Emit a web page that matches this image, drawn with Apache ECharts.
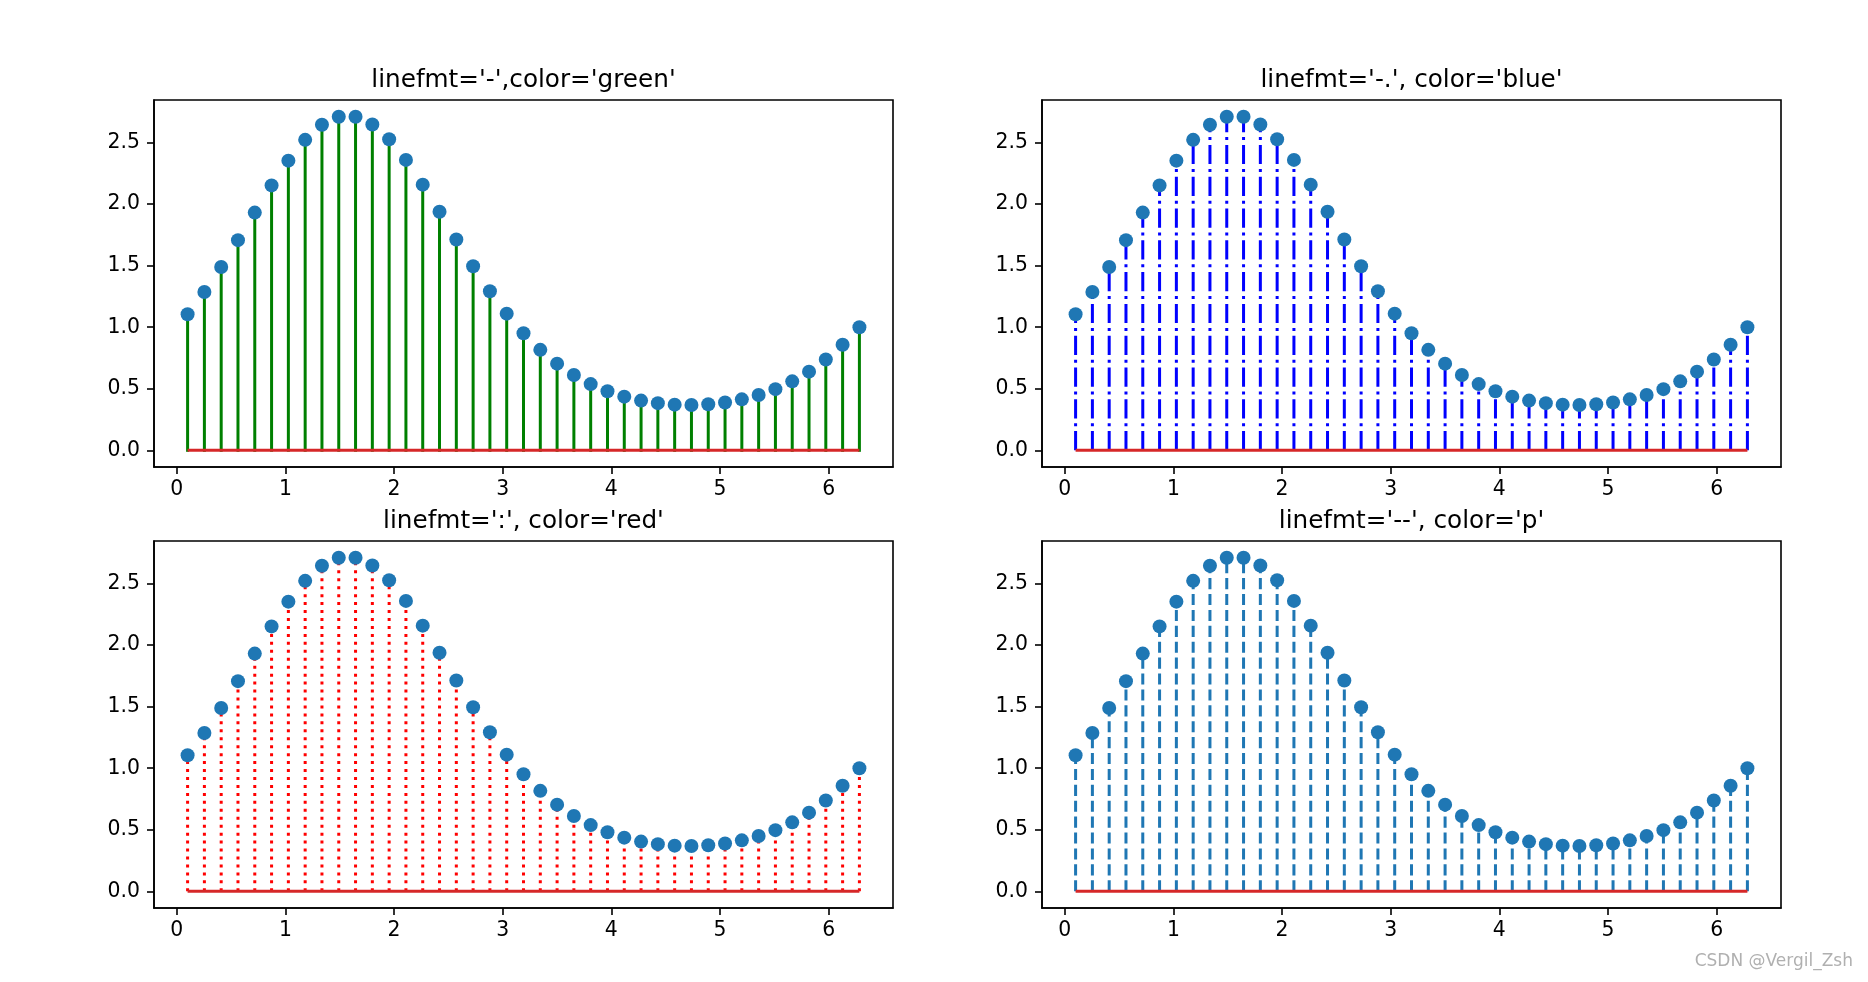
<!DOCTYPE html>
<html>
<head>
<meta charset="utf-8">
<script src="https://cdn.jsdelivr.net/npm/echarts@6/dist/echarts.min.js"></script>
<style>
html,body{margin:0;padding:0;background:#fff;}
#chart{width:1868px;height:982px;}
</style>
</head>
<body>
<div id="chart"></div>
<script>
// x sample positions (0.1 .. 2π, 41 points)
const xValues = [0.1, 0.2546, 0.4092, 0.5637, 0.7183, 0.8729, 1.0275, 1.1821, 1.3366, 1.4912,
  1.6458, 1.8004, 1.9550, 2.1095, 2.2641, 2.4187, 2.5733, 2.7279, 2.8824, 3.0370,
  3.1916, 3.3462, 3.5008, 3.6553, 3.8099, 3.9645, 4.1191, 4.2737, 4.4282, 4.5828,
  4.7374, 4.8920, 5.0466, 5.2011, 5.3557, 5.5103, 5.6649, 5.8195, 5.9740, 6.1286, 6.2832];
// stem heights
const yValues = [1.105, 1.286, 1.489, 1.707, 1.931, 2.152, 2.353, 2.522, 2.645, 2.710,
  2.710, 2.647, 2.527, 2.359, 2.158, 1.938, 1.713, 1.495, 1.292, 1.110,
  0.951, 0.816, 0.704, 0.612, 0.538, 0.480, 0.436, 0.404, 0.383, 0.371,
  0.368, 0.374, 0.389, 0.414, 0.449, 0.497, 0.560, 0.639, 0.738, 0.857, 1.000];
const baseline = [[0.1, 0], [6.2832, 0]];
const xTicks = [0, 1, 2, 3, 4, 5, 6];
const yTicks = [0, 0.5, 1.0, 1.5, 2.0, 2.5];
const titles = ["linefmt='-',color='green'", "linefmt='-.', color='blue'", "linefmt=':', color='red'", "linefmt='--', color='p'"];
const stemColors = ['#008000', '#0000ff', '#ff0000', '#1f77b4'];
const stemDashes = [null, [19.2, 4.8, 3, 4.8], [3, 4.95], [11.1, 4.8]];

const FONT = 'DejaVu Sans';
const panels = [
  {left: 154, top: 100},
  {left: 1042, top: 100},
  {left: 154, top: 541},
  {left: 1042, top: 541}
];
const W = 739, H = 367;

const grids = [], xAxes = [], yAxes = [], series = [], graphics = [];
panels.forEach((p, i) => {
  grids.push({left: p.left, top: p.top, width: W, height: H, show: true,
    borderColor: '#000', borderWidth: 1.6, backgroundColor: 'transparent', containLabel: false});
  xAxes.push({type: 'value', gridIndex: i, min: -0.2092, max: 6.5924,
    axisLine: {show: true, onZero: false, lineStyle: {color: '#000', width: 1.6}},
    axisTick: {show: true, length: 7, lineStyle: {color: '#000', width: 1.6}, customValues: xTicks},
    axisLabel: {show: true, margin: 13, fontSize: 20.4, fontFamily: FONT, color: '#000', customValues: xTicks,
      formatter: v => String(Math.round(v))},
    splitLine: {show: false}});
  yAxes.push({type: 'value', gridIndex: i, min: -0.1355, max: 2.8455,
    axisLine: {show: true, onZero: false, lineStyle: {color: '#000', width: 1.6}},
    axisTick: {show: true, length: 7, lineStyle: {color: '#000', width: 1.6}, customValues: yTicks},
    axisLabel: {show: true, margin: 14, fontSize: 20.4, fontFamily: FONT, color: '#000', customValues: yTicks,
      formatter: v => v.toFixed(1)},
    splitLine: {show: false}});
  const color = stemColors[i], dash = stemDashes[i];
  series.push({
    type: 'custom', xAxisIndex: i, yAxisIndex: i, silent: true, z: 2,
    data: xValues.map((x, k) => [x, yValues[k]]),
    renderItem: (params, api) => {
      const p0 = api.coord([api.value(0), 0]);
      const p1 = api.coord([api.value(0), api.value(1)]);
      return {type: 'line', shape: {x1: p0[0], y1: p0[1], x2: p1[0], y2: p1[1]},
        style: {stroke: color, lineWidth: 3, lineDash: dash || null, lineCap: dash ? 'butt' : 'square'}};
    }
  });
  series.push({
    type: 'line', xAxisIndex: i, yAxisIndex: i, silent: true, z: 3,
    data: baseline, symbol: 'none', lineStyle: {color: '#d62728', width: 3}
  });
  series.push({
    type: 'scatter', xAxisIndex: i, yAxisIndex: i, silent: true, z: 4,
    data: xValues.map((x, k) => [x, yValues[k]]),
    symbol: 'circle', symbolSize: 14, itemStyle: {color: '#1f77b4', opacity: 1}
  });
  graphics.push({type: 'text', x: p.left + W / 2, y: p.top - 19,
    style: {text: titles[i], font: '24.7px "DejaVu Sans"', fill: '#000', align: 'center', verticalAlign: 'middle'}});
});
graphics.push({type: 'text', x: 1853, y: 962,
  style: {text: 'CSDN @Vergil_Zsh', font: '17px "DejaVu Sans"', fill: '#b0b0b0', align: 'right', verticalAlign: 'middle'}});

const chart = echarts.init(document.getElementById('chart'), null, {renderer: 'canvas'});
chart.setOption({
  animation: false,
  backgroundColor: '#fff',
  grid: grids, xAxis: xAxes, yAxis: yAxes, series: series, graphic: graphics
});
</script>
</body>
</html>
